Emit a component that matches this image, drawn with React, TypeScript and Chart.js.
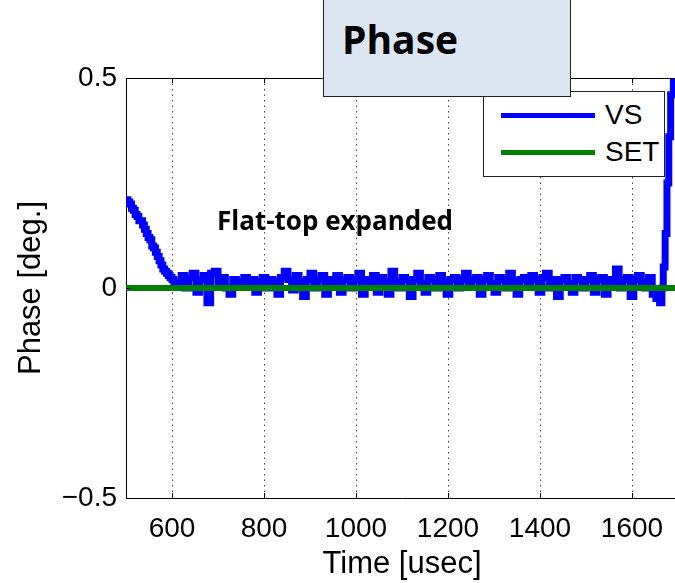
import React, { useEffect, useRef } from "react";
import { Chart, registerables } from "chart.js";

Chart.register(...registerables);

// ---------- data ----------
const vsTime = [
  500, 504, 508, 512, 516, 520, 524, 528, 532, 536, 540, 544, 548, 552, 556, 560,
  564, 568, 572, 576, 580, 584, 588, 592, 596, 600, 604, 608, 612, 616,
  620, 628, 636, 644, 652, 660, 668, 676, 684, 692, 700, 708, 716, 724, 732, 740,
  748, 756, 764, 772, 780, 788, 796, 804, 812, 820, 828, 836, 844, 852, 860, 868,
  876, 884, 892, 900, 908, 916, 924, 932, 940, 948, 956, 964, 972, 980, 988, 996,
  1004, 1012, 1020, 1028, 1036, 1044, 1052, 1060, 1068, 1076, 1084, 1092, 1100, 1108,
  1116, 1124, 1132, 1140, 1148, 1156, 1164, 1172, 1180, 1188, 1196, 1204, 1212, 1220,
  1228, 1236, 1244, 1252, 1260, 1268, 1276, 1284, 1292, 1300, 1308, 1316, 1324, 1332,
  1340, 1348, 1356, 1364, 1372, 1380, 1388, 1396, 1404, 1412, 1420, 1428, 1436, 1444,
  1452, 1460, 1468, 1476, 1484, 1492, 1500, 1508, 1516, 1524, 1532, 1540, 1548, 1556,
  1564, 1572, 1580, 1588, 1596, 1604, 1612, 1620, 1628, 1636, 1644, 1652, 1660,
  1665, 1668, 1672, 1676, 1680, 1684, 1690, 1700,
];
const vsPhase = [
  0.21, 0.205, 0.2, 0.19, 0.185, 0.175, 0.17, 0.16, 0.16, 0.15, 0.14, 0.13, 0.12, 0.115, 0.1, 0.095,
  0.085, 0.075, 0.065, 0.055, 0.045, 0.04, 0.035, 0.03, 0.025, 0.02, 0.015, 0.01, 0.005, 0.015,
  0.03, 0.0, 0.025, 0.035, -0.01, 0.02, 0.03, -0.035, 0.035, 0.04, 0.01, 0.025, 0.0, -0.015, 0.02, 0.015,
  0.005, 0.025, 0.01, 0.02, -0.01, 0.015, 0.025, 0.0, 0.02, 0.015, -0.015, 0.025, 0.04, 0.02, -0.005, 0.03,
  0.015, -0.02, 0.02, 0.035, 0.0, 0.02, 0.03, -0.015, 0.02, 0.01, 0.03, -0.01, 0.02, 0.025, 0.0, 0.02,
  0.035, -0.015, 0.02, 0.01, 0.03, -0.01, 0.025, 0.015, -0.015, 0.04, 0.015, 0.0, 0.025, 0.02,
  -0.02, 0.02, 0.035, 0.01, -0.01, 0.025, 0.02, 0.0, 0.03, 0.015, -0.015, 0.02, 0.025, 0.0,
  0.02, 0.035, 0.005, 0.02, 0.025, -0.015, 0.02, 0.03, 0.01, -0.01, 0.025, 0.02, 0.0, 0.035,
  0.015, -0.015, 0.02, 0.025, 0.005, 0.03, 0.02, -0.01, 0.025, 0.035, 0.0, 0.02, -0.02, 0.02,
  0.025, 0.01, -0.01, 0.025, 0.02, 0.0, 0.02, 0.03, -0.01, 0.02, 0.025, -0.015, 0.02, 0.015,
  0.045, 0.0, 0.02, 0.025, -0.02, 0.02, 0.03, 0.015, 0.0, 0.025, -0.015, -0.025, -0.035,
  0.0, 0.05, 0.13, 0.25, 0.36, 0.46, 0.55, 0.62,
];
const setTime = [500, 1700];
const setPhase = [0, 0];

const xTicks = [600, 800, 1000, 1200, 1400, 1600];
const xTickLabels = ["600", "800", "1000", "1200", "1400", "1600"];
const yTicks = [-0.5, 0, 0.5];
const yTickLabels = ["\u22120.5", "0", "0.5"];

const seriesNames = ["VS", "SET"];
const seriesColors = ["#0000ff", "#008000"];

const chartTitle = "Phase";
const annotationText = "Flat-top expanded";
const xTitle = "Time [usec]";
const yTitle = "Phase [deg.]";

const AXIS_FONT = "'Liberation Sans', Arial, sans-serif";

const framePlugin = {
  id: "frame",
  afterDatasetsDraw(chart: any) {
    const { ctx, chartArea, scales } = chart;
    ctx.save();
    ctx.strokeStyle = "#000";
    ctx.lineWidth = 1;
    ctx.setLineDash([]);
    ctx.beginPath();
    ctx.moveTo(chartArea.left, chartArea.top + 0.5);
    ctx.lineTo(chartArea.right, chartArea.top + 0.5);
    ctx.lineTo(chartArea.right - 0.5, chartArea.bottom);
    ctx.stroke();
    // inward tick marks
    ctx.beginPath();
    for (const v of xTicks) {
      const px = Math.round(scales.x.getPixelForValue(v)) + 0.5;
      ctx.moveTo(px, chartArea.bottom);
      ctx.lineTo(px, chartArea.bottom - 5);
      ctx.moveTo(px, chartArea.top);
      ctx.lineTo(px, chartArea.top + 5);
    }
    for (const v of yTicks) {
      const py = Math.round(scales.y.getPixelForValue(v)) + 0.5;
      ctx.moveTo(chartArea.left, py);
      ctx.lineTo(chartArea.left + 5, py);
    }
    ctx.stroke();
    ctx.restore();
  },
};

export default function App() {
  const canvasRef = useRef<HTMLCanvasElement | null>(null);

  useEffect(() => {
    if (!canvasRef.current) return;
    const chart = new Chart(canvasRef.current, {
      type: "line",
      data: {
        datasets: [
          {
            label: seriesNames[0],
            data: vsTime.map((t, i) => ({ x: t, y: vsPhase[i] })),
            borderColor: seriesColors[0],
            backgroundColor: seriesColors[0],
            borderWidth: 7,
            pointRadius: 0,
            stepped: true,
            order: 2,
          },
          {
            label: seriesNames[1],
            data: setTime.map((t, i) => ({ x: t, y: setPhase[i] })),
            borderColor: seriesColors[1],
            backgroundColor: seriesColors[1],
            borderWidth: 6,
            pointRadius: 0,
            order: 1,
          },
        ],
      },
      options: {
        animation: false,
        responsive: false,
        devicePixelRatio: 1,
        layout: { padding: { top: 78, right: 12, left: 0, bottom: 0 } },
        plugins: {
          legend: { display: false },
          tooltip: { enabled: false },
          title: { display: false },
        },
        scales: {
          x: {
            type: "linear",
            min: 500,
            max: 1700,
            afterBuildTicks: (s: any) => {
              s.ticks = xTicks.map((v) => ({ value: v }));
            },
            afterFit: (s: any) => {
              s.height = 85;
            },
            ticks: {
              color: "#000",
              font: { family: AXIS_FONT, size: 28 },
              padding: 14,
              maxRotation: 0,
              autoSkip: false,
              callback: (_v: any, i: number) => xTickLabels[i],
            },
            grid: {
              color: "#444",
              lineWidth: 1,
              drawTicks: false,
            },
            border: { display: true, color: "#000", width: 1, dash: [1.5, 4] },
            title: {
              display: true,
              text: xTitle,
              color: "#000",
              font: { family: AXIS_FONT, size: 31 },
              padding: { top: 0, bottom: 0 },
            },
          },
          y: {
            type: "linear",
            min: -0.5,
            max: 0.5,
            afterBuildTicks: (s: any) => {
              s.ticks = yTicks.map((v) => ({ value: v }));
            },
            afterFit: (s: any) => {
              s.width = 126;
            },
            ticks: {
              color: "#000",
              font: { family: AXIS_FONT, size: 28 },
              padding: 9,
              autoSkip: false,
              callback: (_v: any, i: number) => yTickLabels[i],
            },
            grid: { display: false, drawTicks: false },
            border: { display: true, color: "#000", width: 1 },
            title: {
              display: true,
              text: yTitle,
              color: "#000",
              font: { family: AXIS_FONT, size: 31 },
              padding: { top: 13, bottom: 0 },
            },
          },
        },
      },
      plugins: [framePlugin],
    } as any);
    return () => chart.destroy();
  }, []);

  return (
    <div
      style={{
        position: "fixed",
        left: 0,
        top: 0,
        width: 675,
        height: 583,
        overflow: "hidden",
        background: "#fff",
      }}
    >
      <canvas
        ref={canvasRef}
        width={690}
        height={583}
        style={{ position: "absolute", left: 0, top: 0, width: 690, height: 583 }}
      />
      <div
        style={{
          position: "absolute",
          left: 217,
          top: 205,
          fontFamily: "'Open Sans', sans-serif",
          fontWeight: 700,
          fontSize: 26,
          lineHeight: "30px",
          color: "#000",
          whiteSpace: "nowrap",
        }}
      >
        {annotationText}
      </div>
      <div
        style={{
          position: "absolute",
          left: 483,
          top: 91,
          width: 180,
          height: 84,
          border: "1px solid #222",
          background: "#fff",
        }}
      >
        {seriesNames.map((name, i) => (
          <div
            key={name}
            style={{
              position: "absolute",
              left: 0,
              top: i === 0 ? 4 : 41,
              height: 38,
              width: 180,
            }}
          >
            <div
              style={{
                position: "absolute",
                left: 17,
                top: 17,
                width: 94,
                height: 5,
                background: seriesColors[i],
              }}
            />
            <div
              style={{
                position: "absolute",
                left: 121,
                top: 0,
                fontFamily: AXIS_FONT,
                fontSize: 28,
                lineHeight: "38px",
                color: "#000",
              }}
            >
              {name}
            </div>
          </div>
        ))}
      </div>
      <div
        style={{
          position: "absolute",
          left: 323,
          top: -1,
          width: 248,
          height: 98,
          border: "1.5px solid #222",
          background: "#dce6f2",
          boxSizing: "border-box",
        }}
      >
        <div
          style={{
            position: "absolute",
            left: 18,
            top: 13,
            fontFamily: "'Open Sans', sans-serif",
            fontWeight: 700,
            fontSize: 39,
            lineHeight: "52px",
            color: "#000",
          }}
        >
          {chartTitle}
        </div>
      </div>
    </div>
  );
}
